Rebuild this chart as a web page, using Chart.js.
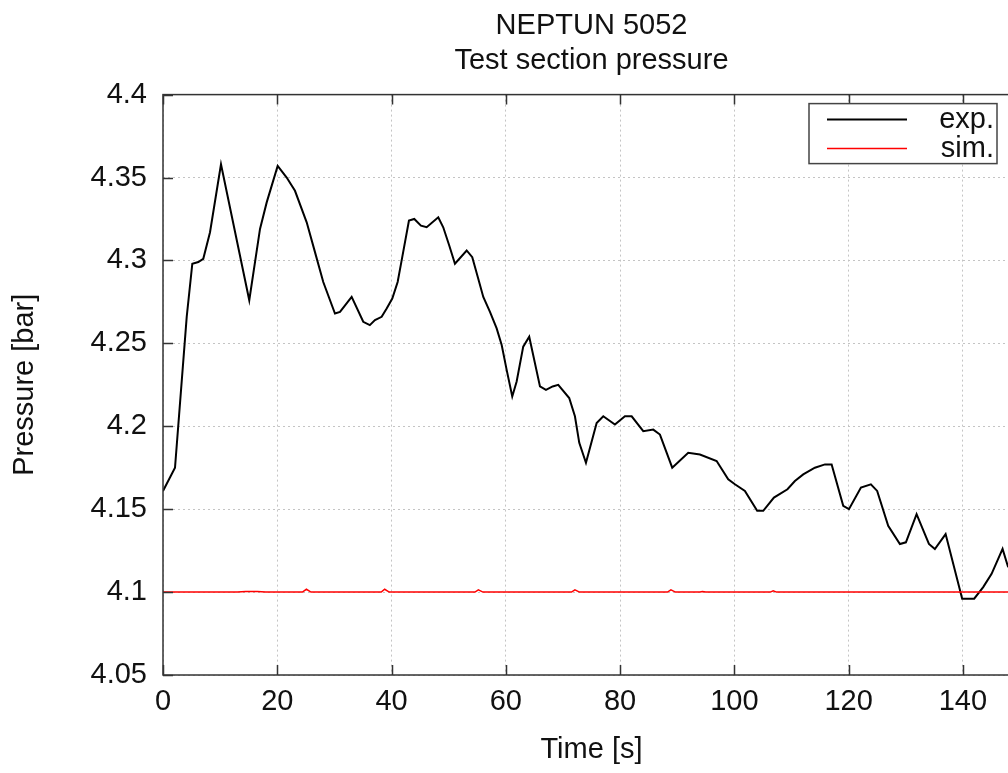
<!DOCTYPE html>
<html>
<head>
<meta charset="utf-8">
<script src="https://cdn.jsdelivr.net/npm/chart.js@4.4.1/dist/chart.umd.min.js"></script>
<style>
  html, body { margin: 0; padding: 0; overflow: hidden; background: #fff; }
  #wrap { position: relative; width: 1040px; height: 773px; }
</style>
</head>
<body>
<div id="wrap"><canvas id="c"></canvas></div>
<script>
// Measured test section pressure (exp.) and simulated pressure (sim.), bar over time in s
const expTime = [
  0, 2.1, 4.15, 5.13, 6.18, 7.05, 8.23, 10.15, 15.1, 16.98,
  18.15, 20.07, 21.65, 23.1, 25.15, 26.6, 28.05, 30.1, 30.98, 33.02,
  35.05, 36.2, 37.1, 38.27, 39.15, 40.13, 41.07, 41.77, 43.05, 43.98,
  45.15, 46.15, 48.18, 49.05, 50.1, 51.1, 53.15, 54.13, 55.18, 56.06,
  57.23, 58.4, 59.28, 60.15, 61.13, 61.9, 63.05, 64.1, 65.98, 67.03,
  68.2, 69.18, 71.1, 72.1, 72.86, 74.03, 75.9, 77.06, 79.1, 80.85,
  82.03, 84.06, 85.81, 86.98, 89.13, 91.93, 93.98, 96.9, 98.93, 100.1,
  101.85, 104, 105.06, 106.93, 109.3, 110.6, 112.06, 114.1, 115.86, 117.03,
  119.06, 120.06, 122.16, 123.9, 125.0, 126.93, 128.98, 130.03, 131.9, 134.06,
  135.1, 136.98, 139.88, 141.98, 143.56, 145.03, 146.95, 147.93
];
const expPressure = [
  4.161, 4.175, 4.266, 4.298, 4.299, 4.301, 4.317, 4.358, 4.276, 4.319,
  4.335, 4.357, 4.350, 4.342, 4.323, 4.305, 4.287, 4.268, 4.269, 4.278,
  4.263, 4.261, 4.264, 4.266, 4.271, 4.277, 4.287, 4.300, 4.324, 4.325,
  4.321, 4.320, 4.326, 4.320, 4.309, 4.298, 4.306, 4.302, 4.289, 4.278,
  4.269, 4.259, 4.249, 4.234, 4.218, 4.227, 4.248, 4.254, 4.224, 4.222,
  4.224, 4.225, 4.217, 4.206, 4.190, 4.178, 4.202, 4.206, 4.201, 4.206,
  4.206, 4.197, 4.198, 4.195, 4.175, 4.184, 4.183, 4.179, 4.168, 4.165,
  4.161, 4.149, 4.149, 4.157, 4.162, 4.167, 4.171, 4.175, 4.177, 4.177,
  4.152, 4.150, 4.163, 4.165, 4.161, 4.140, 4.129, 4.130, 4.147, 4.129,
  4.126, 4.135, 4.096, 4.096, 4.103, 4.111, 4.126, 4.115
];
const simTime = [
  0, 10, 13, 14.5, 16.5, 18, 24.4, 25.1, 25.9, 38.2,
  38.8, 39.6, 54.6, 55.2, 56, 71.5, 72.1, 72.9, 88.3, 88.9,
  89.7, 94, 94.4, 95, 106.3, 106.8, 107.4, 150
];
const simPressure = [
  4.1, 4.1, 4.1, 4.1004, 4.1004, 4.1, 4.1, 4.1017, 4.1, 4.1,
  4.1017, 4.1, 4.1, 4.1014, 4.1, 4.1, 4.1014, 4.1, 4.1, 4.1013,
  4.1, 4.1, 4.1004, 4.1, 4.1, 4.1008, 4.1, 4.1
];
const seriesLabels = ['exp.', 'sim.'];
const xTickValues = [0, 20, 40, 60, 80, 100, 120, 140];
const yTickValues = [4.05, 4.1, 4.15, 4.2, 4.25, 4.3, 4.35, 4.4];
const titleLines = ['NEPTUN 5052', 'Test section pressure'];
const xTitle = 'Time [s]';
const yTitle = 'Pressure [bar]';

const FONT = '"Liberation Sans", Arial, Helvetica, sans-serif';
const TEXT = '#111';
Chart.defaults.font.family = FONT;
Chart.defaults.font.size = 29;
Chart.defaults.color = TEXT;

const toPoints = (xs, ys) => xs.map((t, i) => ({ x: t, y: ys[i] }));

// Closed frame with inward tick marks plus a boxed key in the top-right corner
const framePlugin = {
  id: 'frame',
  afterDraw(chart) {
    const { ctx, chartArea: a, scales: { x, y } } = chart;
    const L = 10;
    ctx.save();
    ctx.strokeStyle = '#333';
    ctx.lineWidth = 1.5;
    ctx.strokeRect(a.left, a.top, a.right - a.left, a.bottom - a.top);
    ctx.beginPath();
    x.ticks.forEach(t => {
      const px = Math.round(x.getPixelForValue(t.value)) + 0.5;
      ctx.moveTo(px, a.bottom); ctx.lineTo(px, a.bottom - L);
      ctx.moveTo(px, a.top); ctx.lineTo(px, a.top + L);
    });
    y.ticks.forEach(t => {
      const py = Math.round(y.getPixelForValue(t.value)) + 0.5;
      ctx.moveTo(a.left, py); ctx.lineTo(a.left + L, py);
      ctx.moveTo(a.right, py); ctx.lineTo(a.right - L, py);
    });
    ctx.stroke();

    // key
    const bw = 188, bh = 60;
    const bx = a.right - 23 - bw, by = a.top + 9;
    ctx.fillStyle = '#fff';
    ctx.fillRect(bx, by, bw, bh);
    ctx.strokeStyle = '#444';
    ctx.lineWidth = 1.5;
    ctx.strokeRect(bx, by, bw, bh);
    ctx.font = '29px ' + FONT;
    ctx.textAlign = 'right';
    ctx.textBaseline = 'middle';
    chart.data.datasets.forEach((ds, i) => {
      const ly = by + 16 + i * 29;
      ctx.strokeStyle = ds.borderColor;
      ctx.lineWidth = ds.borderWidth;
      ctx.beginPath();
      ctx.moveTo(bx + 18, ly);
      ctx.lineTo(bx + 98, ly);
      ctx.stroke();
      ctx.fillStyle = TEXT;
      ctx.fillText(ds.label, bx + bw - 3, ly);
    });
    ctx.restore();
  }
};

new Chart(document.getElementById('c'), {
  type: 'line',
  data: {
    datasets: [
      {
        label: seriesLabels[0],
        data: toPoints(expTime, expPressure),
        borderColor: '#000',
        borderWidth: 2,
        pointRadius: 0,
        tension: 0,
        order: 1
      },
      {
        label: seriesLabels[1],
        data: toPoints(simTime, simPressure),
        borderColor: '#ff0000',
        borderWidth: 1.5,
        pointRadius: 0,
        tension: 0,
        order: 0
      }
    ]
  },
  options: {
    responsive: true,
    maintainAspectRatio: false,
    animation: false,
    layout: { padding: { left: 0, right: 20, top: 0, bottom: 0 } },
    plugins: {
      legend: { display: false },
      tooltip: { enabled: false },
      title: {
        display: true,
        fullSize: false,
        text: titleLines,
        color: TEXT,
        font: { size: 29, weight: 'normal' },
        padding: { top: 9, bottom: 16 }
      }
    },
    scales: {
      x: {
        type: 'linear',
        min: 0,
        max: 150,
        afterBuildTicks: s => { s.ticks = xTickValues.map(v => ({ value: v })); },
        afterFit: s => { s.height = 98; },
        ticks: { padding: 10, maxRotation: 0, autoSkip: false, font: { size: 29 }, color: TEXT },
        grid: { color: '#c4c4c4', lineWidth: 1, drawTicks: false },
        border: { display: false, dash: [2, 3] },
        title: { display: true, text: xTitle, font: { size: 29 }, color: TEXT, padding: { top: 0, bottom: 6 } }
      },
      y: {
        type: 'linear',
        min: 4.05,
        max: 4.4,
        afterBuildTicks: s => { s.ticks = yTickValues.map(v => ({ value: v })); },
        afterFit: s => { s.width = 163; },
        ticks: { padding: 16, font: { size: 29 }, color: TEXT, callback: v => String(v) },
        grid: { color: '#c4c4c4', lineWidth: 1, drawTicks: false },
        border: { display: false, dash: [2, 3] },
        title: { display: true, text: yTitle, font: { size: 29 }, color: TEXT, padding: { top: 8, bottom: 0 } }
      }
    }
  },
  plugins: [framePlugin]
});
</script>
</body>
</html>
